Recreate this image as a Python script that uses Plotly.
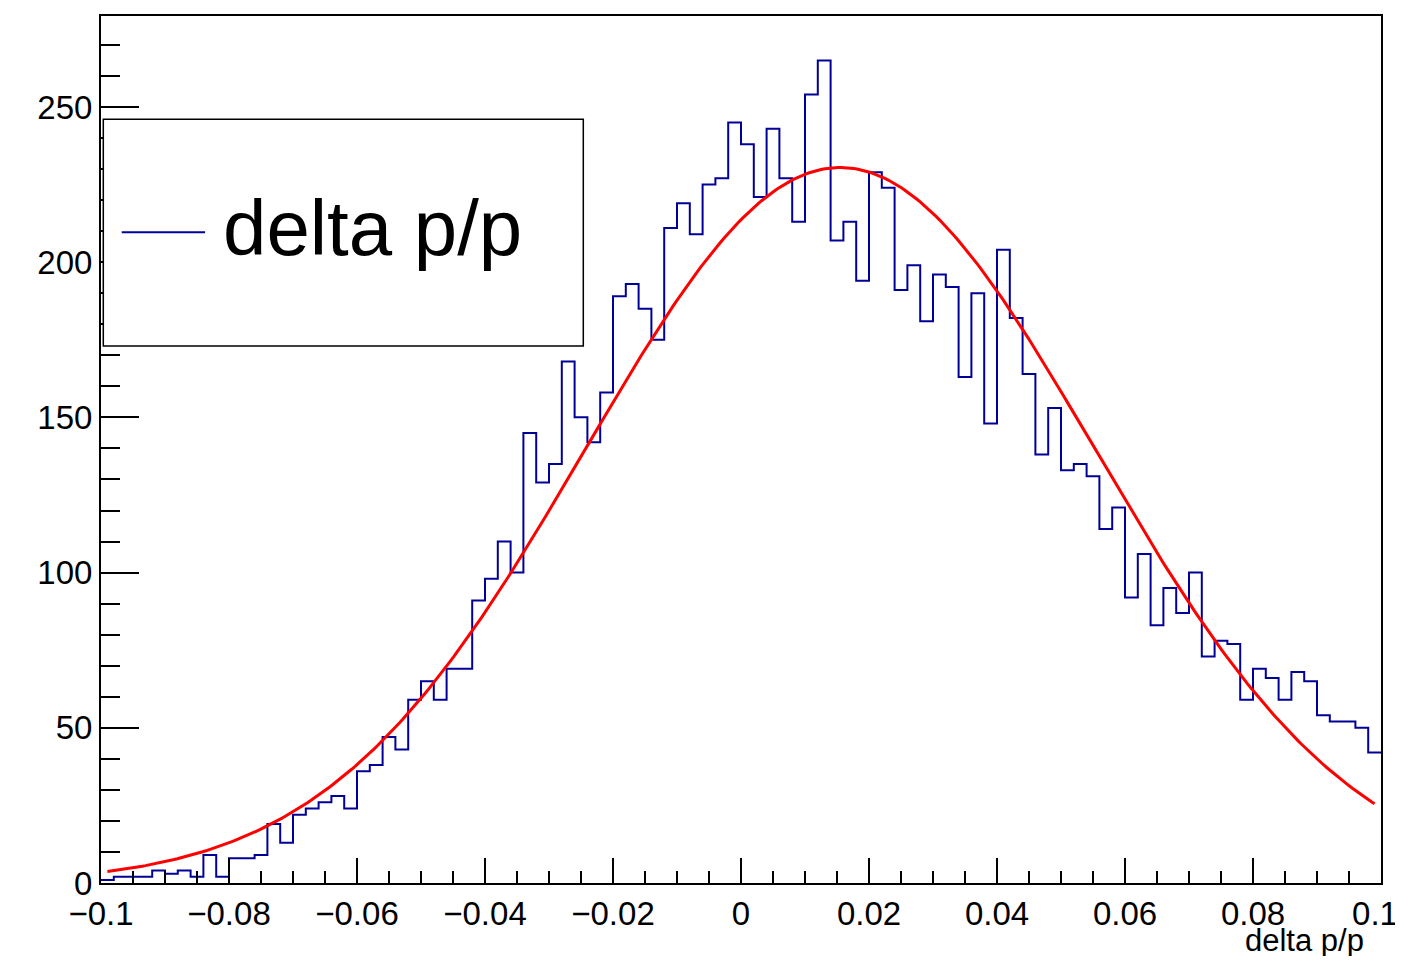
import numpy as np
import plotly.graph_objects as go

# ---- data -----------------------------------------------------------
x_min, x_max, n_bins = -0.1, 0.1, 100
counts = [
    1, 2, 2, 2, 4, 3, 4, 2, 9, 2,
    8, 8, 9, 19, 13, 22, 24, 26, 28, 24,
    36, 38, 47, 43, 59, 65, 59, 69, 69, 91,
    98, 110, 100, 145, 129, 135, 168, 150, 142, 158,
    189, 193, 185, 175, 211, 219, 209, 225, 227, 245,
    238, 221, 243, 227, 213, 254, 265, 207, 213, 194,
    229, 224, 191, 199, 181, 196, 192, 163, 190, 148,
    204, 182, 164, 138, 153, 133, 135, 131, 114, 121,
    92, 106, 83, 95, 87, 100, 73, 78, 77, 59,
    69, 66, 59, 68, 65, 54, 52, 52, 50, 42,
]
# Gaussian fit parameters (constant, mean, sigma)
fit_const = 230.5
fit_mean = 0.0155
fit_sigma = 0.0398
series_name = "delta p/p"
x_title = "delta p/p"
y_max = 279.3
x_tick_vals = [-0.1, -0.08, -0.06, -0.04, -0.02, 0, 0.02, 0.04, 0.06, 0.08, 0.1]
x_tick_text = ["\u22120.1", "\u22120.08", "\u22120.06", "\u22120.04", "\u22120.02", "0",
               "0.02", "0.04", "0.06", "0.08", "0.1\u00a0\u200a"]

# ---- derived --------------------------------------------------------
edges = np.linspace(x_min, x_max, n_bins + 1)
centers = 0.5 * (edges[:-1] + edges[1:])
hx = list(edges)
hy = list(counts) + [counts[-1]]

fx = np.linspace(centers[0], centers[-1], 400)
fy = fit_const * np.exp(-0.5 * ((fx - fit_mean) / fit_sigma) ** 2)

FONT = "Liberation Sans, Arial, Helvetica, sans-serif"
HCOL = "#000099"

fig = go.Figure()
fig.add_trace(go.Scatter(x=hx, y=hy, mode="lines", line=dict(color=HCOL, width=2, shape="hv"),
                         name=series_name, showlegend=False))
fig.add_trace(go.Scatter(x=fx, y=fy, mode="lines", line=dict(color="#ff0000", width=3),
                         name="fit", showlegend=False))

eps = 1e-9
fig.update_layout(
    width=1395, height=948,
    margin=dict(l=93, r=22, t=8, b=73, autoexpand=False),
    paper_bgcolor="white", plot_bgcolor="white",
    font=dict(family=FONT, size=33, color="black"),
    xaxis=dict(
        range=[x_min - eps, x_max + eps], showgrid=False, zeroline=False,
        showline=True, linecolor="black", linewidth=2, mirror=True,
        ticks="inside", ticklen=25, tickwidth=2, tickcolor="black",
        tickmode="array", tickvals=x_tick_vals, ticktext=x_tick_text,
        ticklabeloverflow="allow", automargin=False,
        minor=dict(dtick=0.005, tick0=0, ticks="inside", ticklen=12, tickwidth=2, tickcolor="black", showgrid=False),
        tickfont=dict(size=33, family=FONT, color="black"),
    ),
    yaxis=dict(
        range=[0, y_max], showgrid=False, zeroline=False,
        showline=True, linecolor="black", linewidth=2, mirror=True,
        ticks="inside", ticklen=38, tickwidth=2, tickcolor="black",
        dtick=50, tick0=0, automargin=False,
        minor=dict(dtick=10, ticks="inside", ticklen=19, tickwidth=2, tickcolor="black", showgrid=False),
        tickfont=dict(size=33, family=FONT, color="black"),
    ),
    showlegend=False,
)

# legend box (drawn like ROOT's TLegend)
fig.add_shape(type="rect", xref="paper", yref="paper", x0=0.0018, x1=0.3768, y0=0.6194, y1=0.8809,
              line=dict(color="black", width=1.5), fillcolor="white", layer="above")
fig.add_shape(type="line", xref="paper", yref="paper", x0=0.0162, x1=0.0813, y0=0.7505, y1=0.7505,
              line=dict(color=HCOL, width=2), layer="above")
fig.add_annotation(xref="paper", yref="paper", x=0.0935, y=0.755, xanchor="left", yanchor="middle",
                   text=series_name, showarrow=False, font=dict(size=78, family=FONT, color="black"))

# x axis title, right aligned as in ROOT
fig.add_annotation(xref="paper", yref="paper", x=1.0 - 15 / 1280, y=-0.0440, xanchor="right", yanchor="top",
                   text=x_title, showarrow=False, font=dict(size=31, family=FONT, color="black"))

fig.write_html("out.html")
